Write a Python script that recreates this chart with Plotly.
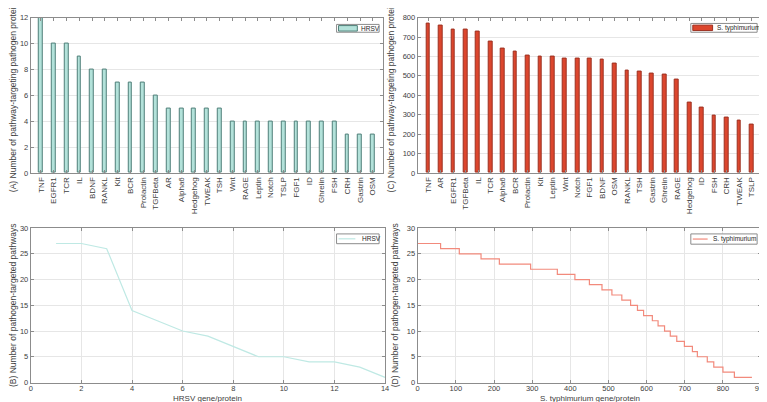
import plotly.graph_objects as go

# (A) HRSV: pathogen proteins per pathway
hrsv_pathways = ["TNF", "EGFR1", "TCR", "IL", "BDNF", "RANKL", "Kit", "BCR", "Prolactin",
                 "TGFBeta", "AR", "Alpha6", "Hedgehog", "TWEAK", "TSH", "Wnt", "RAGE",
                 "Leptin", "Notch", "TSLP", "FGF1", "ID", "Ghrelin", "FSH", "CRH", "Gastrin", "OSM"]
hrsv_counts = [12, 10, 10, 9, 8, 8, 7, 7, 7, 6, 5, 5, 5, 5, 5, 4, 4, 4, 4, 4, 4, 4, 4, 4, 3, 3, 3]

# (C) S. typhimurium: pathogen proteins per pathway
styph_pathways = ["TNF", "AR", "EGFR1", "TGFBeta", "IL", "TCR", "Alpha6", "BCR", "Prolactin",
                  "Kit", "Leptin", "Wnt", "Notch", "FGF1", "BDNF", "OSM", "RANKL", "TSH",
                  "Gastrin", "Ghrelin", "RAGE", "Hedgehog", "ID", "FSH", "CRH", "TWEAK", "TSLP"]
styph_counts = [771, 757, 740, 738, 728, 676, 638, 623, 606, 601, 598, 590, 588, 587, 582, 564,
                525, 521, 510, 505, 482, 363, 336, 295, 285, 270, 250]

# (B) HRSV: pathways per gene/protein
hrsv_gene = list(range(1, 15))
hrsv_npath = [27, 27, 26, 14, 12, 10, 9, 7, 5, 5, 4, 4, 3, 1]

# (D) S. typhimurium: pathways per gene/protein (step positions)
styph_gene = [0, 60, 109, 166, 214, 296, 366, 412, 450, 483, 509, 535, 558, 576, 592, 615,
              630, 647, 662, 679, 699, 720, 733, 759, 776, 800, 830, 876]
styph_npath = [27, 26, 25, 24, 23, 22, 21, 20, 19, 18, 17, 16, 15, 14, 13, 12, 11, 10, 9, 8,
               7, 6, 5, 4, 3, 2, 1, 1]

W, H = 767, 402
FONT = "Liberation Sans, Arial, sans-serif"
TXT = "#404040"
GRID = "#e6e6e6"
TEAL, TEAL_EDGE = "#b3e2da", "#4f7f78"
RED, RED_EDGE = "#dc462d", "#9c3020"
TEAL_LINE, RED_LINE = "#bfe9e4", "#f28a7c"


def px(x):
    return x / W


def py(y):
    return 1 - y / H


fig = go.Figure()

fig.add_trace(go.Bar(
    x=list(range(1, len(hrsv_counts) + 1)), y=hrsv_counts, name="HRSV", width=0.3,
    marker=dict(color=TEAL, line=dict(color=TEAL_EDGE, width=1)),
    xaxis="x", yaxis="y"))

fig.add_trace(go.Bar(
    x=list(range(1, len(styph_counts) + 1)), y=styph_counts, name="S. typhimurium", width=0.3,
    marker=dict(color=RED, line=dict(color=RED_EDGE, width=1)),
    xaxis="x2", yaxis="y2"))

fig.add_trace(go.Scatter(
    x=hrsv_gene, y=hrsv_npath, name="HRSV", mode="lines",
    line=dict(color=TEAL_LINE, width=1.2),
    xaxis="x3", yaxis="y3"))

fig.add_trace(go.Scatter(
    x=styph_gene, y=styph_npath, name="S. typhimurium", mode="lines",
    line=dict(color=RED_LINE, width=1.2, shape="hv"),
    xaxis="x4", yaxis="y4"))

axis_common = dict(
    showline=True, linecolor="#8c8c8c", linewidth=1, mirror="ticks",
    ticks="inside", ticklen=3, tickcolor="#8c8c8c",
    tickfont=dict(family=FONT, size=7.5, color=TXT),
    zeroline=False, gridcolor=GRID, gridwidth=1,
)
title_font = dict(family=FONT, size=8.5, color=TXT)
cat_font = dict(family=FONT, size=8, color=TXT)

top_y = [py(164.7), py(5.7)]
bot_y = [py(379), py(221)]

fig.update_layout(
    width=W, height=H,
    margin=dict(l=0, r=0, t=0, b=0),
    paper_bgcolor="white", plot_bgcolor="white",
    font=dict(family=FONT, size=8, color=TXT),
    bargap=0,
    showlegend=False,
    xaxis=dict(axis_common, domain=[px(21), px(377)], anchor="y", range=[0.2, 27.8],
               tickvals=list(range(1, len(hrsv_pathways) + 1)), ticktext=hrsv_pathways,
               tickangle=-90, showgrid=False, tickfont=cat_font),
    yaxis=dict(axis_common, domain=top_y, anchor="x", range=[0, 12], dtick=2, showgrid=True,
               title=dict(text="(A) Number of pathway-targeting pathogen proteins",
                          font=title_font, standoff=6)),
    xaxis2=dict(axis_common, domain=[px(412), px(760)], anchor="y2", range=[0.15, 27.85],
                tickvals=list(range(1, len(styph_pathways) + 1)), ticktext=styph_pathways,
                tickangle=-90, showgrid=False, tickfont=cat_font),
    yaxis2=dict(axis_common, domain=top_y, anchor="x2", range=[0, 800], dtick=100, showgrid=True,
                title=dict(text="(C) Number of pathway-targeting pathogen proteins",
                           font=title_font, standoff=6)),
    xaxis3=dict(axis_common, domain=[px(21), px(379)], anchor="y3", range=[0, 14], dtick=2,
                showgrid=True, ticklabelstandoff=-2),
    yaxis3=dict(axis_common, domain=bot_y, anchor="x3", range=[0, 30], dtick=5, showgrid=True,
                title=dict(text="(B) Number of pathogen-targeted pathways",
                           font=title_font, standoff=6)),
    xaxis4=dict(axis_common, domain=[px(412), px(759)], anchor="y4", range=[0, 900], dtick=100,
                showgrid=True, ticklabelstandoff=-2),
    yaxis4=dict(axis_common, domain=bot_y, anchor="x4", range=[0, 30], dtick=5, showgrid=True,
                title=dict(text="(D) Number of pathogen-targeted pathways",
                           font=title_font, standoff=6)),
)

# x-axis titles of the lower panels
for xc, txt in [(200, "HRSV gene/protein"), (586, "S. typhimurium gene/protein")]:
    fig.add_annotation(x=px(xc), y=py(395), xref="paper", yref="paper", text=txt,
                       showarrow=False, xanchor="center", yanchor="middle",
                       font=dict(family=FONT, size=8, color=TXT), borderpad=0)

# small MATLAB-style legends: (box, sample, label)
legends = [
    ((330, 12.7, 373, 20.7), "patch", (332, 351), TEAL, TEAL_EDGE, "HRSV", 353),
    ((688, 11.7, 755, 20.7), "patch", (690, 710), RED, RED_EDGE, "S. typhimurium", 712),
    ((330, 227, 373, 237), "line", (332, 349), TEAL_LINE, TEAL_LINE, "HRSV", 354),
    ((688, 227, 755, 237.5), "line", (690, 705), RED_LINE, RED_LINE, "S. typhimurium", 708),
]
for (x0, y0, x1, y1), kind, (sx0, sx1), col, edge, label, tx in legends:
    fig.add_shape(type="rect", xref="paper", yref="paper",
                  x0=px(x0), x1=px(x1), y0=py(y1), y1=py(y0),
                  line=dict(color="#8c8c8c", width=1), fillcolor="white", layer="above")
    ym = (y0 + y1) / 2
    if kind == "patch":
        fig.add_shape(type="rect", xref="paper", yref="paper",
                      x0=px(sx0), x1=px(sx1), y0=py(ym + 2.8), y1=py(ym - 2.8),
                      line=dict(color=edge, width=1), fillcolor=col, layer="above")
    else:
        fig.add_shape(type="line", xref="paper", yref="paper",
                      x0=px(sx0), x1=px(sx1), y0=py(ym), y1=py(ym),
                      line=dict(color=col, width=1.2), layer="above")
    fig.add_annotation(x=px(tx), y=py(ym), xref="paper", yref="paper", text=label,
                       showarrow=False, xanchor="left", yanchor="middle",
                       font=dict(family=FONT, size=6.5, color="#262626"))

fig.write_html("out.html")
